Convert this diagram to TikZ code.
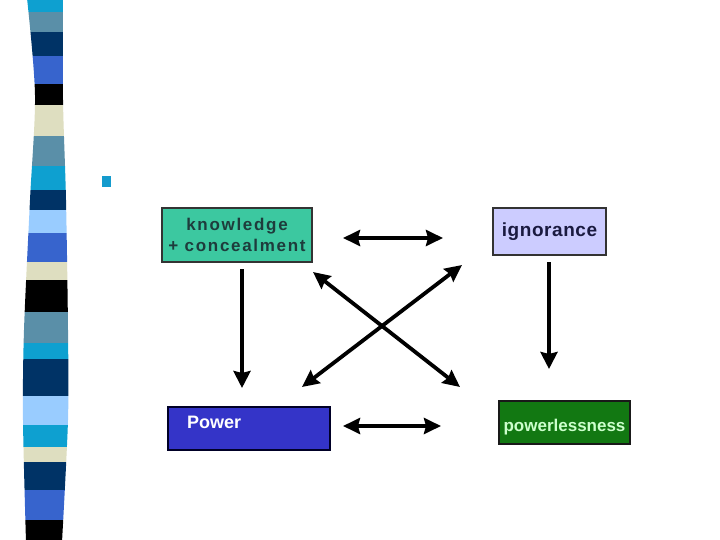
\documentclass[tikz,border=0pt]{standalone}
\usepackage{fontspec}
\setmainfont{Liberation Sans}
\usetikzlibrary{arrows.meta}
\definecolor{scyan}{RGB}{14,160,208}
\definecolor{ssteel}{RGB}{90,143,168}
\definecolor{snavy}{RGB}{0,51,102}
\definecolor{sroyal}{RGB}{55,100,205}
\definecolor{sbeige}{RGB}{222,222,192}
\definecolor{slight}{RGB}{153,204,255}
\definecolor{kfill}{RGB}{60,200,160}
\definecolor{ktext}{RGB}{30,60,60}
\definecolor{ifill}{RGB}{204,204,255}
\definecolor{itext}{RGB}{26,26,64}
\definecolor{pfill}{RGB}{52,52,200}
\definecolor{gfill}{RGB}{18,120,18}
\definecolor{gtext}{RGB}{204,255,204}
\definecolor{bullc}{RGB}{20,155,205}
\tikzset{
  box/.style={draw=black!80, line width=1.3pt, inner sep=0pt, align=center},
  arr/.style={line width=3.8pt, black, {Stealth[length=17pt,width=16pt,inset=2pt]}-{Stealth[length=17pt,width=16pt,inset=2pt]}},
  arrone/.style={line width=3.8pt, black, -{Stealth[length=17pt,width=17pt,inset=2pt]}}
}
\begin{document}
\begin{tikzpicture}[x=1pt,y=-1pt]
\useasboundingbox (0,0) rectangle (720,540);
\fill[white] (0,0) rectangle (720,540);
% striped side bar
\begin{scope}
\clip plot[smooth] coordinates {(27,-2) (35,95) (30,200) (24,330) (23,420) (26,542)}
  -- plot[smooth] coordinates {(62,542) (68,420) (68,330) (66,200) (63,100) (63,-2)} -- cycle;
\foreach \a/\b/\c in {0/12/scyan,12/32/ssteel,32/56/snavy,56/84/sroyal,84/105/black,
  105/136/sbeige,136/166/ssteel,166/190/scyan,190/210/snavy,210/233/slight,233/262/sroyal,
  262/280/sbeige,280/312/black,312/343/ssteel,343/359/scyan,359/396/snavy,396/425/slight,
  425/447/scyan,447/462/sbeige,462/490/snavy,490/520/sroyal,520/542/black}
  \fill[\c] (0,\a) rectangle (80,\b);
\end{scope}
% bullet
\fill[bullc] (102,176) rectangle (111,187);
% boxes
\node[box, fill=kfill, text=ktext, minimum width=150pt, minimum height=54pt,
  font=\fontsize{17}{20.5}\selectfont\bfseries\addfontfeature{LetterSpace=10}] (kn) at (237,235)
  {knowledge\\+ concealment};
\node[box, fill=ifill, text=itext, minimum width=113pt, minimum height=47pt,
  font=\fontsize{19}{22}\selectfont\bfseries\addfontfeature{LetterSpace=3}] (ig) at (549.5,231.5)
  {ignorance};
\node[box, draw=black!85!blue, fill=pfill, text=white, minimum width=162pt, minimum height=43pt,
  text width=124pt, align=left, inner xsep=19pt, text height=6pt, text depth=7pt,
  font=\fontsize{18}{21}\selectfont\bfseries] (pw) at (249,428.5)
  {Power};
\node[box, draw=black!90, fill=gfill, text=gtext, minimum width=131pt, minimum height=43pt,
  text height=18pt, text depth=0pt,
  font=\fontsize{17}{20}\selectfont\bfseries] (pl) at (564.5,422.5)
  {powerlessness};
% arrow end points
\coordinate (h1a) at (343,238);
\coordinate (h1b) at (443,238);
\coordinate (h2a) at (343,426);
\coordinate (h2b) at (441,426);
\coordinate (v1a) at (242,269);
\coordinate (v1b) at (242,388);
\coordinate (v2a) at (549,262);
\coordinate (v2b) at (549,369);
\coordinate (d1a) at (313,272);
\coordinate (d1b) at (460,387);
\coordinate (d2a) at (302,387);
\coordinate (d2b) at (462,265);
% arrows
\draw[arr] (h1a) -- (h1b);
\draw[arr] (h2a) -- (h2b);
\draw[arrone] (v1a) -- (v1b);
\draw[arrone] (v2a) -- (v2b);
\draw[arr] (d1a) -- (d1b);
\draw[arr] (d2a) -- (d2b);
\end{tikzpicture}
\end{document}
